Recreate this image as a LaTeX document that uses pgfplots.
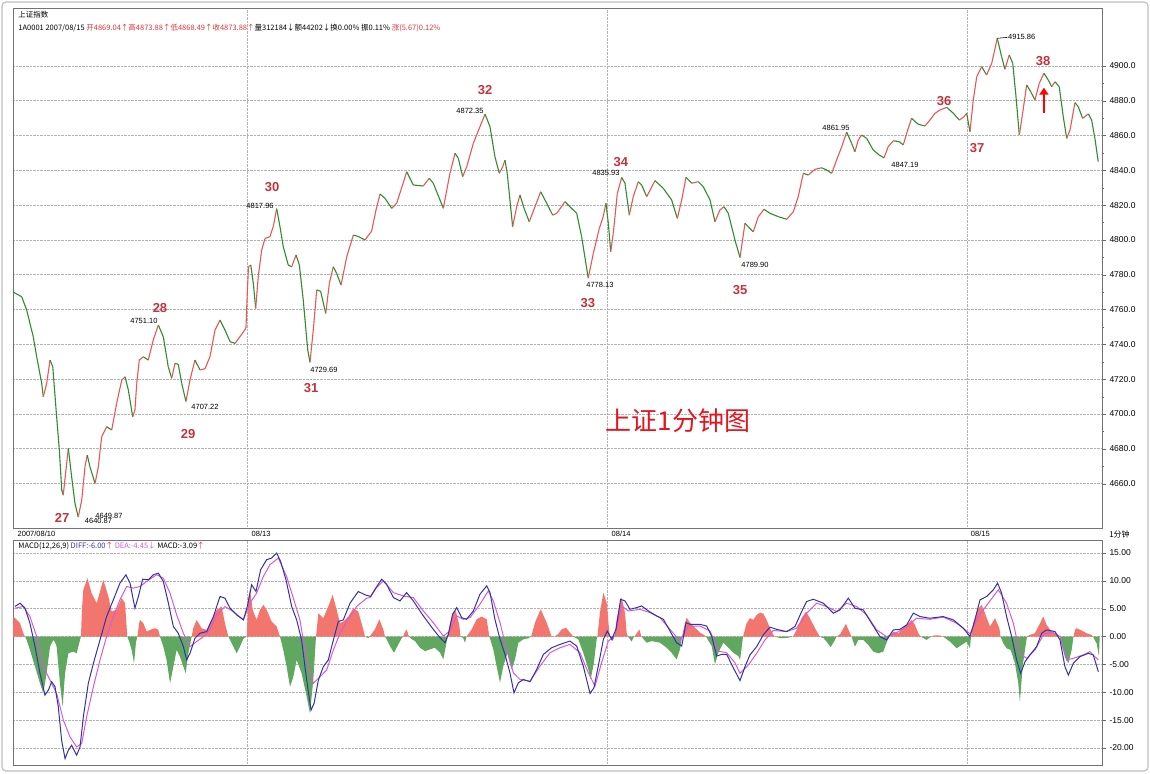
\documentclass[border=0pt]{standalone}
\usepackage{pgfplots}
\pgfplotsset{compat=1.18}
\usepackage{pgfplotstable}
\usetikzlibrary{arrows.meta}
\usepackage{fontspec}
\setmainfont{Liberation Sans}
\newfontfamily\cjk{Noto Sans CJK SC}
\definecolor{upred}{RGB}{232,86,86}
\definecolor{dngreen}{RGB}{46,140,46}
\definecolor{barred}{RGB}{242,118,110}
\definecolor{bargreen}{RGB}{96,168,96}
\definecolor{diffblue}{RGB}{50,50,170}
\definecolor{deamag}{RGB}{214,90,214}
\definecolor{annred}{RGB}{196,50,60}
\definecolor{titlered}{RGB}{230,20,30}
\definecolor{hdrred}{RGB}{225,50,60}

\pgfplotstableread{
m p c
0 4770.1 0
5.8 4767.4 0
9.1 4759.8 0
13.5 4744.4 0
15.8 4732.9 0
19.1 4717.8 0
20.2 4709.9 1
22.5 4717.8 1
24.7 4731.0 0
26.5 4727.2 0
29.1 4698.4 0
30.9 4679.3 0
32.5 4656.3 0
33.5 4653.4 1
35.3 4667.8 1
36.9 4680.3 0
39.1 4663.9 0
41.3 4648.7 0
43.5 4640.8 1
45.8 4650.5 1
48.0 4669.7 1
49.5 4676.4 0
51.3 4669.7 0
54.7 4660.1 1
56.9 4669.7 1
59.1 4686.9 1
62.5 4692.7 0
65.8 4690.8 1
69.1 4706.1 1
72.5 4719.5 1
74.7 4721.4 0
76.9 4713.8 0
79.8 4698.4 1
81.3 4702.3 1
82.5 4717.6 1
84.2 4731.0 1
86.9 4732.9 0
90.2 4731.0 1
93.5 4742.5 1
96.9 4751.1 0
100.2 4744.4 0
103.5 4727.2 0
105.8 4720.5 1
108.0 4729.1 0
110.2 4728.5 0
112.5 4717.6 0
115.3 4707.2 1
118.0 4719.5 1
121.3 4731.0 0
124.7 4725.3 1
128.0 4726.0 1
131.3 4732.9 1
134.7 4748.3 1
138.0 4754.0 0
141.3 4748.3 0
144.7 4741.6 0
148.0 4740.6 1
151.3 4744.4 1
155.3 4749.2 1
156.2 4769.6 1
157.0 4784.6 1
158.5 4785.6 0
160.2 4775.3 0
161.8 4760.7 1
163.5 4778.9 1
165.8 4794.2 1
168.0 4800.9 1
171.3 4801.9 1
173.5 4807.6 1
175.8 4818.0 0
178.0 4807.6 0
180.2 4796.1 0
183.5 4785.6 0
185.8 4784.6 1
188.7 4791.4 0
190.9 4785.6 0
193.5 4765.5 0
196.5 4736.8 0
198.0 4729.7 1
200.2 4748.3 1
202.5 4771.3 0
205.1 4770.5 0
208.5 4757.8 1
210.9 4775.1 1
213.5 4784.6 0
215.8 4780.8 0
218.7 4774.1 1
222.5 4790.4 1
226.9 4802.8 0
230.2 4802.0 0
234.7 4800.0 1
239.1 4805.1 1
242.0 4817.2 1
244.7 4826.4 0
248.0 4823.9 0
252.5 4818.2 1
255.8 4821.1 1
262.5 4839.2 0
266.9 4831.6 0
273.5 4831.0 1
277.5 4835.4 0
280.2 4832.6 0
286.9 4818.2 1
291.3 4838.3 1
294.7 4849.8 0
296.9 4846.9 0
299.8 4836.4 1
302.5 4842.1 1
306.9 4855.5 1
311.3 4865.1 1
314.7 4872.3 0
318.0 4865.1 0
321.3 4847.8 0
324.2 4838.3 1
326.5 4842.1 1
328.0 4845.9 0
329.5 4838.3 0
331.3 4823.0 0
333.1 4807.6 1
335.8 4819.1 1
338.0 4825.8 0
340.7 4818.2 0
344.2 4810.5 1
348.0 4819.1 1
351.8 4827.7 0
355.8 4821.1 0
359.8 4814.3 1
362.5 4815.3 1
368.0 4822.0 0
371.3 4819.1 0
375.8 4815.3 0
379.1 4801.9 0
383.5 4778.1 1
386.9 4792.3 1
390.9 4806.7 1
393.5 4813.4 1
395.3 4821.1 0
396.9 4809.6 0
398.5 4793.3 1
400.2 4803.8 1
402.9 4826.8 1
405.8 4835.9 0
408.0 4832.6 0
410.9 4814.3 1
413.5 4824.9 1
416.9 4833.5 0
419.1 4831.6 0
422.5 4824.9 1
428.0 4834.1 0
433.5 4829.7 0
439.1 4823.0 0
442.9 4812.4 1
445.8 4823.0 1
448.7 4836.0 0
452.5 4832.6 1
456.9 4833.5 0
460.2 4830.6 0
464.7 4823.0 0
468.0 4810.5 1
471.3 4817.2 1
474.0 4819.1 0
476.9 4815.3 0
481.3 4800.0 0
484.7 4789.9 1
488.0 4809.6 0
490.2 4807.6 0
493.5 4804.7 1
496.9 4813.4 1
500.7 4817.6 0
504.7 4815.3 0
510.2 4813.4 0
515.8 4811.9 1
520.2 4816.2 1
523.5 4824.9 1
526.9 4838.3 0
530.2 4837.3 1
534.7 4840.6 1
539.1 4841.5 0
542.5 4840.2 0
545.8 4838.3 1
549.1 4846.0 1
552.5 4853.6 1
555.8 4862.0 0
559.1 4855.5 0
561.3 4850.7 1
563.5 4857.4 1
565.8 4860.3 0
569.1 4858.4 0
573.5 4851.7 0
577.5 4848.8 0
580.7 4847.2 1
583.5 4853.6 1
586.9 4857.0 0
590.9 4856.5 0
593.5 4854.6 1
596.5 4863.2 1
599.1 4869.9 0
603.5 4866.5 0
608.0 4865.5 1
611.3 4868.9 1
614.7 4872.8 1
618.0 4874.7 1
622.5 4876.2 0
626.9 4872.8 0
630.9 4868.9 1
634.0 4870.8 1
635.8 4872.8 0
638.0 4862.2 1
640.2 4880.4 1
642.5 4893.8 1
645.8 4899.6 0
649.1 4894.8 1
652.5 4901.5 1
656.2 4915.9 0
659.1 4905.3 0
661.3 4898.1 1
664.2 4906.3 0
666.5 4901.5 0
668.7 4882.3 0
670.9 4860.3 1
673.1 4872.8 1
675.8 4889.1 0
678.5 4885.2 0
681.3 4880.4 1
684.2 4890.0 1
687.3 4895.8 0
690.2 4891.9 0
692.5 4888.1 1
694.7 4890.9 0
697.5 4888.1 0
700.2 4870.8 0
702.5 4858.4 1
704.7 4863.2 1
708.0 4878.9 0
710.2 4876.6 0
713.1 4869.9 1
716.9 4872.4 0
719.1 4868.9 0
721.3 4858.4 0
723.5 4845.0 0
}\price

\pgfplotstableread{
m v
1.3 5.4
4.7 6.0
8.0 5.1
11.3 2.4
14.7 -1.8
18.0 -6.6
21.3 -10.5
23.6 -9.6
25.8 -8.1
28.0 -9.0
30.2 -12.6
32.4 -18.6
34.7 -21.9
36.9 -20.4
39.1 -19.5
42.4 -21.3
44.7 -19.8
46.9 -14.4
50.2 -8.4
53.6 -4.8
58.0 -0.6
62.4 3.6
66.9 6.6
71.3 9.6
75.3 11.1
78.0 9.6
81.3 5.1
83.6 7.2
86.4 10.3
90.2 10.2
93.6 11.1
96.9 11.4
100.2 9.9
103.6 6.0
106.9 1.8
110.2 0.6
113.6 -1.8
115.8 -4.2
118.0 -3.0
121.3 -0.3
124.7 0.6
129.1 0.9
133.6 3.6
138.0 7.2
141.3 6.9
144.7 5.1
149.1 3.9
153.6 3.0
156.2 5.4
159.1 9.3
162.0 8.1
165.1 12.0
169.1 13.8
172.4 14.1
175.8 15.0
178.4 13.5
182.0 10.2
185.8 5.4
189.1 3.0
192.4 -0.6
195.8 -7.8
198.7 -13.2
200.7 -12.0
203.6 -7.8
206.9 -5.4
210.2 -4.2
213.6 -0.6
216.9 2.7
220.2 3.0
224.7 6.0
230.2 8.1
234.7 7.5
238.5 7.2
241.3 8.5
245.8 10.3
249.1 9.4
253.6 7.0
258.0 6.4
262.4 7.9
266.9 6.4
273.6 3.7
280.2 1.3
284.7 -0.2
288.0 -1.1
290.2 0.4
293.1 4.0
295.8 5.2
299.1 3.4
302.4 3.1
306.9 4.6
311.3 7.6
315.8 9.1
318.0 7.9
321.3 3.1
324.7 -0.5
328.0 -3.2
331.3 -6.5
334.0 -10.1
336.9 -8.3
340.2 -7.7
344.7 -8.1
349.1 -5.9
353.6 -3.2
359.1 -2.0
364.7 -1.4
371.3 -0.8
375.8 -1.7
380.2 -5.3
384.7 -10.2
387.3 -9.2
390.2 -5.3
393.6 -0.5
396.2 1.0
399.1 -0.5
402.0 1.3
405.1 6.7
408.0 6.4
411.3 4.9
415.8 5.2
419.1 5.5
423.6 4.6
429.1 3.7
433.6 3.1
438.0 1.0
442.4 -1.1
445.8 -1.7
448.7 2.5
451.3 2.2
458.0 2.2
462.4 1.9
465.8 0.1
469.1 -3.5
472.4 -3.2
475.8 -3.2
480.2 -5.6
484.7 -7.9
488.0 -5.4
491.3 -3.3
495.8 -1.8
500.2 0.3
504.7 1.7
509.1 1.3
515.8 0.9
521.3 1.8
525.8 4.5
529.1 6.3
533.6 6.7
540.2 6.0
546.9 4.2
551.3 4.8
556.9 6.9
561.3 5.1
566.9 4.8
572.4 2.4
578.0 0
582.4 -0.6
586.9 1.2
591.3 1.3
595.8 2.1
600.2 4.2
604.7 3.6
611.3 3.3
620.2 3.6
626.9 3.0
633.6 1.5
638.0 0
641.3 3.0
644.7 6.6
649.1 7.2
653.6 8.4
656.4 9.6
659.1 7.8
662.4 3.6
665.8 0
669.1 -4.2
671.8 -6.6
674.7 -4.5
678.0 -3.3
682.4 -1.8
685.8 0.6
689.1 1.2
694.7 0.9
698.0 -0.6
701.3 -5.4
703.6 -6.9
706.9 -4.8
711.3 -3.6
716.9 -3.0
720.2 -3.3
723.6 -6.3
}\diff

\pgfplotstableread{
m v
1.3 5.1
6.9 5.4
11.3 3.6
15.8 0
20.2 -5.4
24.7 -7.8
29.1 -10.2
33.6 -15.0
38.0 -18.0
42.4 -19.8
45.8 -19.2
49.1 -14.4
53.6 -9.0
58.0 -4.2
62.4 0
66.9 3.6
71.3 6.6
75.8 9.0
80.2 8.7
84.7 9.0
89.1 9.9
95.8 11.1
100.2 10.5
104.7 7.8
109.1 3.9
113.6 0.6
118.0 -1.8
122.4 -0.9
126.9 0
131.3 1.2
135.8 3.9
141.3 5.4
146.9 4.5
153.6 3.0
158.0 6.0
162.4 7.8
166.9 10.8
171.3 12.9
176.9 14.1
182.4 10.8
186.9 6.9
191.3 3.0
195.8 -4.2
200.2 -8.4
204.7 -7.2
209.1 -6.0
213.6 -2.4
218.0 0.6
222.4 2.7
229.1 5.4
235.8 6.9
238.0 7.0
242.4 8.8
246.9 10.0
253.6 7.9
260.2 7.3
266.9 7.0
273.6 4.6
280.2 2.5
286.9 0.1
291.3 1.0
295.8 3.7
300.2 3.1
304.7 3.4
311.3 5.8
316.9 8.2
320.2 6.4
324.7 2.5
329.1 -2.3
333.6 -6.5
338.0 -7.7
344.7 -8.0
351.3 -5.3
358.0 -2.9
364.7 -2.0
371.3 -1.4
378.0 -2.9
383.6 -6.5
388.0 -8.9
392.4 -4.7
396.9 -0.8
401.3 0.1
405.8 5.5
410.2 4.6
418.0 4.9
424.7 4.3
431.3 3.4
438.0 1.3
444.7 -0.8
450.2 1.9
458.0 1.9
464.7 1.0
470.2 -2.6
475.8 -2.9
481.3 -4.7
484.7 -6.6
490.2 -5.1
495.8 -3.0
501.3 -0.6
506.9 1.1
515.8 0.9
522.4 1.5
529.1 4.2
535.8 6.0
542.4 5.4
549.1 4.5
555.8 6.0
562.4 5.4
569.1 3.9
575.8 1.2
582.4 0
589.1 0.7
595.8 1.8
602.4 3.3
611.3 3.1
620.2 3.5
629.1 2.4
638.0 0.5
643.6 3.6
650.2 6.0
656.9 8.4
662.4 6.0
666.9 2.4
671.3 -3.0
675.8 -3.9
681.3 -2.4
686.9 0.3
692.4 0.9
698.0 0
702.4 -4.2
706.9 -3.9
713.6 -3.3
717.9 -2.7
721.3 -3.6
723.6 -4.2
}\dea

\pgfplotstableread{
m h
0 0
0.3 3.6
4.7 2.4
6.9 0.6
8.0 0
9.1 -0.6
11.3 -2.4
14.7 -5.4
18.0 -8.4
20.2 -10.2
22.4 -6.6
24.7 -1.8
26.9 -0.6
28.0 -1.0
29.1 -1.8
31.3 -8.4
33.1 -12.6
34.7 -6.6
36.9 -3.0
40.2 -2.7
42.4 -3.0
44.7 -0.6
45.3 0
46.0 5.0
46.9 8.4
49.6 10.5
52.4 7.8
55.8 6.0
60.2 10.2
63.6 7.2
65.8 4.5
69.1 4.8
72.4 6.9
74.7 6.0
76.2 0
77.6 -1.0
79.1 -2.4
80.7 -4.8
82.0 -1.0
82.9 0
84.2 2.5
84.7 3.0
86.9 2.4
89.1 0.9
91.3 1.2
94.7 1.5
96.9 1.2
98.0 0
100.2 -1.8
102.4 -4.2
104.7 -8.4
106.9 -5.4
109.1 -2.4
111.3 -3.6
113.6 -5.4
115.1 -6.6
116.9 -3.0
119.1 0
120.2 1.5
122.4 3.0
125.8 1.5
129.1 1.2
132.4 3.0
135.8 4.8
139.1 5.4
141.3 2.4
143.6 0
146.9 -1.8
149.1 -3.0
151.3 -1.8
153.6 -0.4
155.8 0
156.9 6.9
158.0 8.4
159.8 4.8
162.4 3.0
164.7 4.8
166.9 5.7
169.1 4.8
172.4 2.7
175.8 1.8
178.0 0
180.2 -2.4
182.4 -5.4
184.7 -9.0
186.9 -7.2
189.1 -4.2
192.4 -6.6
195.8 -10.8
198.0 -13.8
200.2 -7.8
202.0 0
203.6 4.2
206.9 3.3
210.2 5.4
213.1 7.5
215.8 4.8
218.0 2.4
220.2 2.7
223.6 3.6
226.9 5.1
230.2 4.5
233.6 1.2
234.7 0
236.9 -0.3
237.8 0
239.1 0.5
241.3 1.3
244.2 3.1
246.9 1.3
248.0 0
249.1 -0.5
251.3 -1.7
254.0 -2.9
256.9 -1.4
259.1 -0.3
260.0 0
261.3 0.8
262.4 1.3
264.0 0
266.0 -0.5
268.0 -0.8
271.3 -2.0
274.7 -2.6
278.0 -2.3
281.3 -2.0
284.7 -2.9
286.9 -4.1
288.7 -1.5
289.8 0
291.1 2.0
293.1 4.3
295.3 4.6
297.6 1.9
298.4 0
300.2 -0.3
301.3 -1.1
302.4 0
305.8 1.3
309.1 3.1
312.4 3.6
315.8 3.1
317.6 0
320.2 -2.3
322.4 -5.3
324.7 -8.3
326.9 -5.3
329.6 -3.0
332.4 -5.9
334.7 -4.1
336.9 -1.1
340.2 -0.5
343.6 -0.3
345.3 0
346.0 0.5
348.0 2.5
351.8 4.9
355.8 2.5
359.1 0
361.1 0
363.6 0.5
365.8 1.3
368.7 1.6
371.3 0.7
373.6 0
376.9 -0.5
380.2 -2.9
383.6 -5.9
385.1 -7.7
387.3 -4.7
389.1 -0.5
389.6 0
391.3 4.3
393.6 7.9
395.8 6.1
397.6 0.7
398.0 0
399.8 -0.8
401.0 0
402.4 3.0
404.2 5.5
405.8 7.0
408.0 4.3
409.1 0.7
410.0 0
412.4 -0.9
414.0 0
415.1 0.3
417.6 1.3
419.0 0
422.4 -1.1
425.8 -0.8
431.3 -1.1
435.8 -2.0
439.1 -2.9
442.4 -4.1
444.7 -2.3
446.0 0
448.0 2.5
449.1 3.4
451.3 2.5
454.7 1.6
458.0 0.7
460.2 0.4
462.0 0
465.8 -1.7
468.0 -5.0
470.2 -2.9
473.6 -1.1
476.9 -2.0
480.2 -2.9
483.6 -3.5
484.7 -4.2
485.8 -2.0
486.7 0
489.1 2.4
491.3 3.3
493.6 3.0
495.8 3.9
498.0 4.3
500.2 4.1
502.4 3.0
504.7 1.5
506.9 0.3
508.0 0
511.8 -0.3
516.9 -0.2
520.0 0
522.4 1.2
525.8 3.3
528.7 4.5
531.3 3.3
534.7 1.5
537.6 0.1
538.0 0
540.4 -0.3
542.4 -0.9
545.1 -1.9
548.0 -0.6
549.0 0
551.6 0.5
553.6 1.5
555.3 2.3
558.0 0.6
559.0 0
561.3 -1.8
563.6 -0.6
566.9 -0.6
570.2 -1.5
573.6 -2.7
576.9 -3.0
580.2 -2.7
583.1 -0.6
584.5 0
586.9 0.9
590.2 0.6
593.6 1.5
596.9 2.4
599.1 3.0
601.3 2.1
603.6 0.6
605.0 0
609.1 -0.6
612.0 0
614.0 0.2
618.0 0.2
620.0 0
624.7 -0.9
629.1 -2.1
632.4 -1.5
635.8 -0.9
638.0 -2.1
638.7 0
640.2 2.4
642.9 4.8
645.8 5.7
648.0 4.2
651.3 1.8
654.7 3.3
657.6 1.5
658.4 0
660.2 -1.2
662.4 -2.1
665.1 -2.4
668.0 -4.8
670.2 -8.4
671.3 -11.7
673.1 -5.4
675.3 -1.2
676.0 0
677.8 0.3
681.3 0.6
684.7 2.4
686.9 3.6
689.1 2.1
692.4 0.9
696.9 0.3
698.0 0
699.1 -1.5
701.3 -3.6
703.6 -4.8
705.8 -2.4
707.0 0
708.0 1.2
709.1 1.5
712.4 1.1
715.8 0.6
719.1 0.3
720.0 0
722.4 -1.2
724.0 -3.5
724.5 0
}\hist

\begin{document}
\begin{tikzpicture}
\path[use as bounding box] (0pt,0pt) rectangle (1150pt,773pt);
\draw[black!25, line width=1.2pt, rounded corners=4pt] (2pt,2pt) rectangle (1148pt,771pt);

% ---------------- price panel ----------------
\begin{axis}[
  at={(13pt,245pt)}, anchor=south west, scale only axis,
  width=1089pt, height=520pt,
  xmin=0, xmax=726, ymin=4634.5, ymax=4933.3,
  axis line style={black!55, line width=0.8pt},
  xtick={156,396,636}, xticklabels={}, xtick style={draw=none},
  xmajorgrids, ymajorgrids,
  grid style={black!30, densely dotted, line width=0.7pt},
  ytick={4660,4680,...,4900},
  minor y tick num=1,
  ytick pos=right, yticklabel pos=right,
  tick align=outside,
  ytick style={black!60},
  major tick length=4pt, minor tick length=2pt,
  yticklabel style={font=\fontsize{8.5}{9}\selectfont, /pgf/number format/.cd, fixed, fixed zerofill, precision=1, 1000 sep={}, assume math mode=true},
  colormap={updown}{color=(dngreen) color=(upred)},
  point meta min=0, point meta max=1,
  clip=false,
]
\addplot[mesh, shader=flat corner, point meta=explicit, line width=1.1pt] table[x=m,y=p,meta=c]{\price};

% header
\node[anchor=west, font=\cjk\fontsize{7.5}{8}\selectfont] at (rel axis cs:0.0018,0.9865) {上证指数};
\node[anchor=west, font=\cjk\fontsize{7.5}{8}\selectfont] at (rel axis cs:0.0018,0.9615) {1A0001 2007/08/15 \textcolor{hdrred}{开4869.04↑高4873.88↑低4868.49↑收4873.88↑}量312184↓额44202↓换0.00\% 振0.11\% \textcolor{hdrred}{涨(5.67)0.12\%}};

% date strip
\node[anchor=west, font=\fontsize{7.5}{8}\selectfont] at (axis cs:0.8,4631) {2007/08/10};
\node[anchor=west, font=\fontsize{7.5}{8}\selectfont] at (axis cs:156.8,4631) {08/13};
\node[anchor=west, font=\fontsize{7.5}{8}\selectfont] at (axis cs:396.8,4631) {08/14};
\node[anchor=west, font=\fontsize{7.5}{8}\selectfont] at (axis cs:636.3,4631) {08/15};
\node[anchor=west, font=\cjk\fontsize{8}{8}\selectfont] at (axis cs:728.5,4631) {1分钟};

% wave numbers
\begin{scope}[every node/.style={annred, font=\bfseries\fontsize{13}{13}\selectfont}]
\node at (axis cs:32.7,4640.2) {27};
\node at (axis cs:98,4760.9) {28};
\node at (axis cs:116.7,4688.5) {29};
\node at (axis cs:172.7,4830.5) {30};
\node at (axis cs:198.7,4714.9) {31};
\node at (axis cs:314.7,4886.2) {32};
\node at (axis cs:383.3,4763.8) {33};
\node at (axis cs:405.3,4844.8) {34};
\node at (axis cs:484.7,4771.3) {35};
\node at (axis cs:620.7,4879.9) {36};
\node at (axis cs:642.7,4852.9) {37};
\node at (axis cs:686.7,4902.9) {38};
\end{scope}

% price labels
\begin{scope}[every node/.style={font=\fontsize{7.5}{8}\selectfont, inner sep=0.5pt}]
\node at (axis cs:57,4638.5) {4640.87};
\node at (axis cs:64,4641.5) {4649.87};
\node at (axis cs:87.3,4753.5) {4751.10};
\node at (axis cs:128,4704.0) {4707.22};
\node at (axis cs:164.7,4819.5) {4817.96};
\node at (axis cs:207.3,4725.3) {4729.69};
\node at (axis cs:304.7,4874.1) {4872.35};
\node at (axis cs:395.3,4838.5) {4835.93};
\node at (axis cs:391.3,4774.1) {4778.13};
\node at (axis cs:494.7,4785.6) {4789.90};
\node at (axis cs:548.7,4864.4) {4861.95};
\node at (axis cs:594.7,4843.1) {4847.19};
\node[anchor=west] at (axis cs:663,4916.4) {4915.86};
\end{scope}
\draw[black, line width=0.6pt] (axis cs:656.4,4915.9) -- (axis cs:663,4916.4);

\node[titlered, font=\cjk\fontsize{26}{26}\selectfont] at (axis cs:443.3,4696) {上证1分钟图};
\draw[-{Triangle[width=9pt,length=7pt]}, red, line width=2.5pt] (axis cs:687.3,4873) -- (axis cs:687.3,4887.5);
\end{axis}

% ---------------- MACD panel ----------------
\begin{axis}[
  at={(13pt,8pt)}, anchor=south west, scale only axis,
  width=1089pt, height=225pt,
  xmin=0, xmax=726, ymin=-23.05, ymax=17.34,
  axis line style={black!55, line width=0.8pt},
  xtick={156,396,636}, xticklabels={}, xtick style={draw=none},
  xmajorgrids, ymajorgrids,
  grid style={black!30, densely dotted, line width=0.7pt},
  ytick={-20,-15,...,15},
  ytick pos=right, yticklabel pos=right,
  tick align=outside,
  ytick style={black!60},
  major tick length=4pt,
  yticklabel style={font=\fontsize{8.5}{9}\selectfont, /pgf/number format/.cd, fixed, fixed zerofill, precision=2, assume math mode=true},
  clip=false,
]
\addplot[fill=barred, draw=none] table[x=m, y expr={max(\thisrow{h},0)}]{\hist};
\addplot[fill=bargreen, draw=none] table[x=m, y expr={min(\thisrow{h},0)}]{\hist};
\addplot[deamag, line width=1pt] table[x=m,y=v]{\dea};
\addplot[diffblue, line width=1pt] table[x=m,y=v]{\diff};
\node[anchor=west, font=\cjk\fontsize{7.5}{8}\selectfont] at (rel axis cs:0.0018,0.973) {MACD(12,26,9) \textcolor{diffblue}{DIFF:-6.00}\textcolor{hdrred}{↑} \textcolor{deamag}{DEA:-4.45↓} MACD:-3.09\textcolor{hdrred}{↑}};
\end{axis}
\end{tikzpicture}
\end{document}
